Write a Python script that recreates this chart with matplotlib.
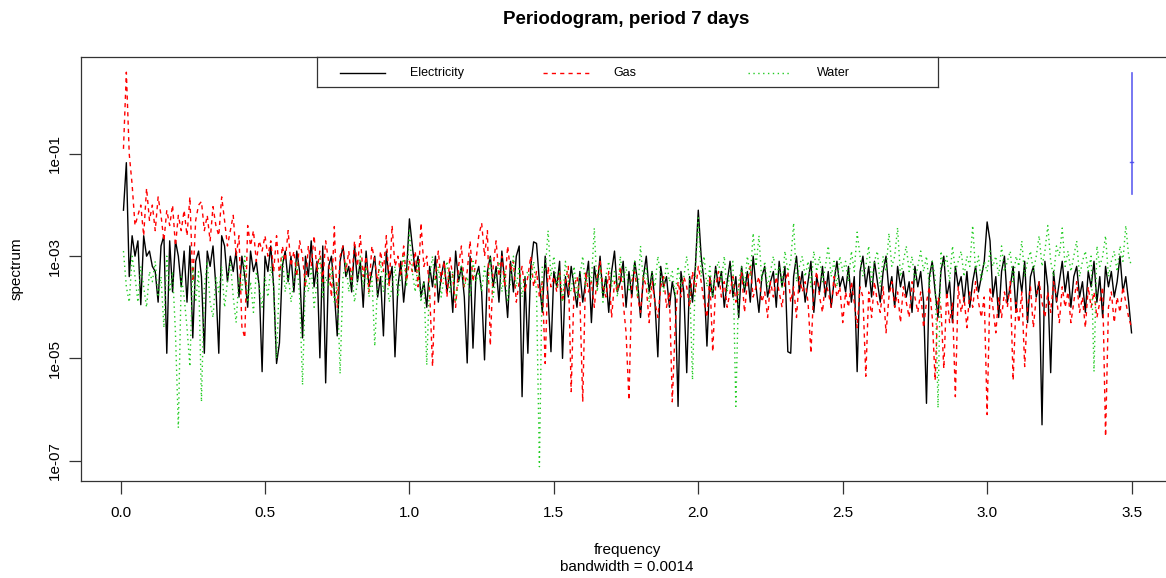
import numpy as np
import matplotlib
matplotlib.use("Agg")
import matplotlib.pyplot as plt
from matplotlib.ticker import FixedLocator, NullLocator

plt.rcParams['font.family'] = ['Liberation Sans', 'DejaVu Sans']

# ---------------- data (log10 of spectrum) ----------------
freq_step = 0.01
n_freq = 350
freq = np.round(np.arange(1, n_freq + 1) * freq_step, 2)

electricity_log = [
    -2.1, -1.17, -3.4, -2.6, -3.0, -2.7, -3.95, -2.6, -3.0, -2.9, -3.2, -3.3, -3.9, -2.8, -2.6, -4.9, -2.7, -3.7, -2.7, -3.0, -3.6, -2.9, -3.9, -2.8, -4.6,
    -3.1, -2.9, -3.4, -4.9, -2.9, -3.2, -2.8, -3.6, -4.9, -2.6, -2.8, -3.5, -3.0, -3.3, -2.9, -3.8, -3.0, -3.4, -4.0, -2.9, -3.3, -3.1, -3.6, -5.26, -3.0,
    -3.3, -2.8, -3.6, -5.1, -4.7, -3.2, -2.9, -3.5, -3.0, -3.7, -2.9, -3.3, -4.6, -3.0, -3.4, -2.7, -3.6, -3.1, -4.99, -2.8, -5.48, -3.2, -3.0, -3.7, -4.56,
    -3.1, -2.8, -3.4, -3.2, -3.7, -2.8, -3.5, -3.1, -4.0, -2.9, -3.6, -3.3, -3.0, -3.8, -3.4, -4.56, -2.9, -3.5, -3.2, -4.97, -3.6, -3.1, -3.9, -3.3, -2.27,
    -2.8, -3.3, -3.0, -3.8, -3.5, -4.0, -3.2, -3.6, -3.0, -3.9, -3.4, -3.1, -3.7, -3.3, -4.1, -2.9, -3.5, -3.2, -3.8, -5.09, -3.0, -4.8, -3.4, -3.2, -3.7,
    -5.03, -3.3, -3.0, -3.6, -3.2, -3.9, -2.9, -3.5, -4.2, -3.1, -3.7, -3.0, -2.8, -5.75, -3.4, -4.9, -3.2, -2.72, -2.75, -3.5, -4.1, -3.0, -3.8, -4.87, -3.3,
    -3.6, -3.1, -5.0, -3.4, -3.8, -3.2, -3.6, -4.0, -3.3, -3.9, -3.5, -3.1, -4.3, -3.2, -3.6, -3.0, -3.8, -3.4, -4.1, -3.3, -2.9, -3.7, -3.5, -3.1, -4.0,
    -3.3, -3.8, -3.1, -3.5, -4.2, -3.4, -3.0, -3.7, -3.3, -3.9, -4.97, -3.2, -3.6, -3.4, -4.0, -3.5, -3.8, -5.94, -3.3, -3.7, -5.28, -3.4, -3.9, -3.2, -2.1,
    -3.0, -3.5, -4.76, -3.4, -3.8, -3.2, -3.6, -3.3, -4.0, -3.5, -3.1, -3.8, -3.4, -4.2, -3.2, -3.7, -3.3, -3.9, -3.0, -3.6, -4.1, -3.4, -3.2, -3.8, -3.5,
    -3.3, -4.0, -3.1, -3.6, -3.2, -4.87, -4.9, -3.4, -3.0, -3.7, -3.3, -3.9, -3.5, -3.1, -4.1, -3.4, -3.7, -3.2, -3.8, -3.3, -4.0, -3.5, -3.1, -3.6, -3.4,
    -3.7, -3.2, -3.9, -3.4, -5.26, -3.3, -3.0, -3.6, -3.2, -3.8, -3.1, -3.5, -3.9, -3.3, -3.0, -3.7, -3.4, -4.0, -3.2, -3.6, -3.3, -3.8, -3.5, -4.1, -3.2,
    -3.6, -3.3, -3.9, -5.88, -3.4, -3.1, -3.7, -4.2, -3.3, -3.0, -3.8, -3.5, -4.3, -3.2, -3.6, -3.4, -3.9, -3.3, -4.0, -3.5, -3.2, -3.7, -3.4, -3.1, -2.33,
    -2.7, -3.8, -3.4, -4.2, -3.3, -3.0, -3.9, -3.6, -3.2, -4.1, -3.3, -3.7, -3.1, -4.3, -3.4, -3.2, -3.8, -3.5, -6.3, -3.1, -3.6, -5.28, -3.3, -3.9, -3.5,
    -3.1, -3.7, -3.3, -4.0, -3.4, -3.2, -3.8, -3.5, -4.1, -3.3, -3.6, -3.1, -3.9, -3.4, -4.2, -3.2, -3.6, -3.3, -3.8, -3.5, -3.0, -3.7, -3.4, -3.9, -4.5,
]

gas_log = [
    -0.9, 0.6, -1.0, -1.6, -2.4, -2.2, -2.0, -2.6, -1.67, -2.3, -2.0, -2.5, -1.84, -2.2, -2.7, -2.1, -2.4, -2.0, -2.8, -2.2, -2.5, -2.1, -2.6, -1.84, -3.5,
    -2.3, -2.0, -1.93, -2.5, -2.2, -2.7, -2.03, -2.4, -2.6, -1.84, -2.3, -2.8, -2.5, -2.2, -3.0, -2.6, -4.38, -4.6, -2.4, -2.8, -2.5, -3.1, -2.7, -2.9, -2.6,
    -3.0, -2.7, -3.3, -2.6, -3.4, -2.8, -3.1, -2.5, -3.2, -2.9, -3.4, -2.7, -3.0, -3.6, -2.8, -3.2, -2.6, -3.3, -2.9, -3.5, -2.7, -3.1, -3.8, -2.42, -4.0,
    -3.0, -2.8, -3.3, -2.9, -3.5, -2.7, -3.2, -2.6, -3.4, -3.0, -3.7, -2.8, -3.1, -3.5, -2.9, -3.3, -2.6, -3.6, -2.40, -3.2, -3.0, -3.4, -2.8, -3.5, -3.1,
    -3.3, -2.9, -3.6, -2.35, -3.2, -3.0, -3.7, -5.16, -3.4, -2.9, -3.5, -3.1, -3.8, -3.0, -3.4, -4.0, -3.2, -2.8, -3.6, -3.3, -2.7, -3.5, -3.1, -2.6, -2.35,
    -3.0, -2.5, -4.75, -3.2, -2.7, -3.4, -3.0, -3.6, -2.8, -3.3, -3.1, -3.9, -3.5, -3.2, -3.7, -3.4, -3.0, -3.6, -3.3, -3.8, -3.5, -5.1, -3.2, -3.6, -3.4,
    -3.7, -3.3, -3.9, -3.5, -3.2, -5.65, -3.6, -3.4, -3.8, -5.85, -3.3, -3.7, -3.5, -4.0, -3.4, -3.1, -3.6, -3.8, -3.3, -4.2, -3.5, -3.7, -3.2, -3.9, -4.5,
    -5.82, -3.5, -3.3, -3.8, -4.1, -3.4, -3.6, -4.3, -3.5, -3.9, -4.2, -3.6, -3.4, -4.0, -3.7, -5.85, -4.4, -3.5, -3.8, -3.4, -3.6, -4.0, -3.3, -3.7, -3.2,
    -3.5, -3.9, -4.2, -3.4, -4.87, -3.6, -3.3, -3.8, -3.5, -4.0, -3.7, -3.4, -3.9, -3.6, -3.3, -4.1, -3.5, -3.2, -3.8, -3.6, -3.4, -3.9, -3.7, -4.2, -3.5,
    -3.8, -3.4, -3.7, -4.0, -3.5, -3.3, -3.9, -3.6, -4.2, -3.4, -3.7, -3.5, -3.9, -4.9, -3.6, -3.3, -3.8, -4.1, -3.5, -3.7, -4.0, -3.4, -3.8, -3.6, -4.3,
    -3.7, -4.0, -3.5, -3.9, -4.4, -3.6, -3.8, -5.35, -3.7, -4.2, -3.5, -3.9, -4.1, -3.6, -4.5, -3.8, -3.5, -4.0, -3.7, -4.3, -3.6, -3.9, -4.2, -3.5, -3.8,
    -4.1, -3.7, -4.4, -3.9, -3.6, -4.2, -5.43, -3.8, -4.0, -5.2, -3.7, -4.3, -3.9, -5.75, -3.6, -4.1, -3.8, -4.4, -3.7, -4.0, -3.5, -3.9, -4.2, -3.8, -6.1,
    -3.6, -4.0, -4.5, -3.8, -4.2, -3.7, -4.0, -3.5, -5.43, -3.9, -4.3, -3.7, -5.16, -4.0, -3.6, -4.4, -3.8, -3.5, -3.9, -4.2, -3.7, -4.1, -3.5, -3.8, -4.3,
    -3.6, -4.0, -3.7, -4.3, -3.9, -3.5, -4.1, -3.8, -4.4, -3.6, -4.0, -3.7, -4.2, -3.9, -3.6, -6.53, -4.0, -3.7, -4.3, -3.8, -4.1, -3.6, -3.9, -4.2, -4.4,
]

water_log = [
    -2.9, -3.6, -3.9, -3.0, -3.4, -3.9, -3.2, -3.6, -4.0, -3.3, -3.5, -3.1, -3.8, -3.4, -4.4, -3.0, -3.7, -3.3, -4.5, -6.36, -3.4, -3.8, -4.4, -5.16, -3.2,
    -3.9, -3.3, -5.85, -3.6, -3.1, -3.9, -4.2, -3.4, -3.7, -3.2, -4.0, -3.5, -3.1, -3.8, -4.3, -3.4, -3.7, -3.0, -3.9, -3.5, -4.1, -3.3, -3.6, -4.0, -3.4,
    -3.8, -3.2, -3.6, -5.0, -3.4, -3.0, -3.7, -3.3, -3.9, -3.5, -3.1, -3.8, -5.52, -3.4, -3.7, -3.2, -4.0, -3.5, -3.0, -3.8, -3.4, -3.6, -3.2, -3.9, -3.5,
    -5.3, -3.4, -3.1, -3.7, -3.3, -3.9, -3.5, -3.0, -3.6, -3.2, -3.8, -3.4, -4.76, -3.5, -3.1, -3.7, -3.3, -3.9, -3.6, -3.2, -3.8, -3.4, -3.0, -3.6, -2.5,
    -3.3, -3.7, -3.1, -3.9, -3.5, -5.13, -3.4, -3.0, -3.6, -3.2, -3.8, -3.4, -3.1, -3.7, -3.3, -3.9, -3.5, -3.2, -3.6, -3.4, -3.8, -3.1, -3.5, -3.3, -3.7,
    -3.2, -3.6, -3.0, -3.8, -3.4, -3.1, -3.7, -3.3, -3.9, -3.5, -3.0, -3.6, -3.2, -3.8, -3.4, -3.3, -3.5, -3.1, -3.7, -7.12, -3.2, -3.3, -2.5, -3.4, -3.0,
    -3.6, -3.3, -3.9, -3.1, -3.5, -3.7, -3.2, -3.8, -3.4, -3.0, -3.6, -3.3, -3.5, -2.45, -3.7, -3.2, -3.9, -3.4, -3.1, -3.6, -3.3, -3.8, -3.0, -3.5, -3.2,
    -3.7, -3.4, -3.1, -3.8, -2.8, -3.5, -3.2, -3.9, -3.3, -3.6, -3.0, -3.4, -3.7, -3.1, -3.5, -3.3, -3.8, -3.2, -3.6, -3.4, -3.0, -3.5, -5.42, -3.3, -2.25,
    -3.4, -3.0, -3.6, -3.2, -3.8, -3.3, -3.1, -3.5, -3.0, -3.7, -3.3, -3.1, -5.94, -3.5, -3.2, -3.6, -3.0, -3.4, -2.55, -3.2, -2.6, -3.5, -3.1, -3.6, -3.3,
    -3.0, -3.4, -3.2, -3.6, -2.9, -3.3, -3.1, -2.35, -3.5, -3.2, -3.0, -3.4, -3.1, -3.6, -2.9, -3.3, -3.0, -3.5, -3.2, -2.8, -3.4, -3.1, -3.6, -3.0, -3.3,
    -3.1, -3.5, -2.9, -3.3, -2.53, -3.0, -3.4, -3.2, -2.8, -3.5, -3.1, -2.9, -3.6, -3.0, -3.3, -2.55, -3.2, -3.0, -2.44, -3.4, -3.1, -2.8, -3.3, -3.0, -3.5,
    -3.2, -2.9, -3.3, -3.0, -3.6, -3.1, -3.4, -5.97, -2.9, -3.2, -3.0, -3.5, -2.8, -3.3, -3.1, -2.9, -3.4, -3.0, -3.2, -2.4, -3.3, -3.0, -3.5, -3.1, -3.3,
    -2.9, -3.2, -3.0, -3.4, -2.8, -3.3, -3.1, -2.9, -3.5, -3.0, -3.2, -2.7, -3.4, -3.1, -2.9, -3.3, -3.0, -2.6, -3.2, -2.9, -2.4, -3.1, -3.4, -2.8, -3.0,
    -2.45, -3.2, -2.9, -3.3, -3.0, -2.7, -3.4, -3.1, -2.9, -3.3, -3.0, -5.26, -2.8, -3.2, -3.0, -2.6, -3.4, -3.1, -2.9, -3.3, -2.8, -3.1, -2.4, -3.0, -3.2,
]

series_names = ["Electricity", "Gas", "Water"]
ci_freq = 3.5
ci_log = [0.58, -1.15, -1.78]   # upper, centre, lower (log10)

x_ticks = [0.0, 0.5, 1.0, 1.5, 2.0, 2.5, 3.0, 3.5]
y_ticks_exp = [-1, -3, -5, -7]
title = "Periodogram, period 7 days"
x_label = "frequency"
bw_label = "bandwidth = 0.0014"
y_label = "spectrum"

# ---------------- figure ----------------
W, H = 1166, 578
fig = plt.figure(figsize=(W / 100, H / 100), dpi=100)

def fx(px):
    return px / W

def fy(py):
    return 1 - py / H

ax_left, ax_right, ax_top, ax_bottom = 81, 1172, 57, 481
ax = fig.add_axes([fx(ax_left), fy(ax_bottom), (ax_right - ax_left) / W, (ax_bottom - ax_top) / H])

styles = [
    dict(color="black", linestyle="-", linewidth=1.0),
    dict(color="#FF0000", linestyle=(0, (3, 3)), linewidth=1.0),
    dict(color="#22CC22", linestyle=(0, (1, 2.5)), linewidth=1.0),
]
for vals, st in zip([electricity_log, gas_log, water_log], styles):
    ax.plot(freq, 10 ** np.array(vals), **st)

# confidence bar
ci = 10 ** np.array(ci_log)
ax.plot([ci_freq, ci_freq], [ci[0], ci[2]], color="#4444EE", linewidth=1.2, alpha=0.85)
ax.plot([ci_freq - 0.004, ci_freq + 0.004], [ci[1], ci[1]], color="#4444EE", linewidth=1.0, alpha=0.85)

ax.set_yscale("log")
ax.set_xlim(-0.137, 3.64)
ax.set_ylim(10 ** -7.40, 10 ** 0.898)
ax.xaxis.set_major_locator(FixedLocator(x_ticks))
ax.set_xticklabels([f"{t:.1f}" for t in x_ticks])
ax.yaxis.set_major_locator(FixedLocator([10.0 ** e for e in y_ticks_exp]))
ax.yaxis.set_minor_locator(NullLocator())
ax.set_yticklabels([f"1e-{-e:02d}" for e in y_ticks_exp], rotation=90, va="center")
ax.tick_params(axis="both", direction="out", length=9, width=0.9, color="#333333", labelsize=11)
ax.tick_params(axis="x", pad=9)
ax.tick_params(axis="y", pad=5)
for s in ax.spines.values():
    s.set_color("#333333")
    s.set_linewidth(0.9)

fig.text(fx(626), fy(20), title, ha="center", va="center", fontsize=13.5, fontweight="bold")
fig.text(fx(627), fy(550), x_label, ha="center", va="center", fontsize=11)
fig.text(fx(627), fy(567), bw_label, ha="center", va="center", fontsize=11)
fig.text(fx(17), fy(269), y_label, ha="center", va="center", fontsize=11, rotation=90)

# legend box
lg_left, lg_right, lg_top, lg_bottom = 317, 938, 57, 87
lax = fig.add_axes([fx(lg_left), fy(lg_bottom), (lg_right - lg_left) / W, (lg_bottom - lg_top) / H])
lax.set_xlim(lg_left, lg_right)
lax.set_ylim(lg_bottom, lg_top)
lax.set_xticks([])
lax.set_yticks([])
lax.patch.set_facecolor("white")
for s in lax.spines.values():
    s.set_color("#333333")
    s.set_linewidth(0.9)
sample_x = [(340, 385), (543, 590), (748, 790)]
text_x = [410, 613, 817]
for name, st, (a, b), tx in zip(series_names, styles, sample_x, text_x):
    lax.plot([a, b], [73, 73], **st)
    lax.text(tx, 73, name, ha="left", va="center", fontsize=9)

fig.savefig("out.png", dpi=100)
